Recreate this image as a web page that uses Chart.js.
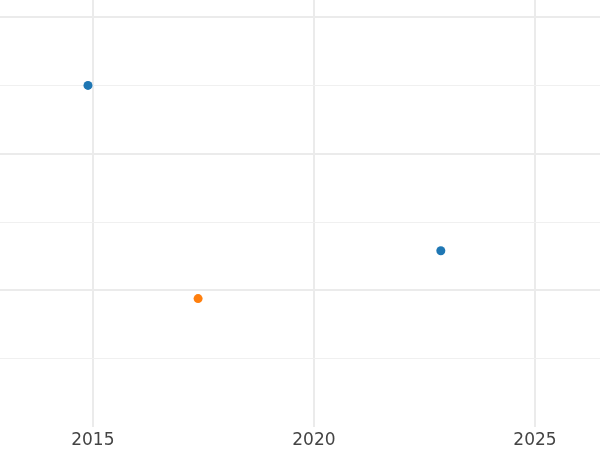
<!DOCTYPE html>
<html>
<head>
<meta charset="utf-8">
<script src="https://cdn.jsdelivr.net/npm/chart.js@4/dist/chart.umd.min.js"></script>
<style>
  html, body { margin: 0; padding: 0; background: #fff; }
  #wrap { width: 600px; height: 450px; position: relative; }
</style>
</head>
<body>
<div id="wrap"><canvas id="chart"></canvas></div>
<script>
// ── Data ────────────────────────────────────────────────────────────────────
const blueYears   = [2014.89, 2022.87];
const blueValues  = [2.5, 1.29];
const orangeYears = [2017.38];
const orangeValues = [0.94];

const xTicks = [2015, 2020, 2025];
const yMajorTicks = [1, 2, 3];
const yMinorTicks = [0.5, 1.5, 2.5];

const xRange = [2012.9, 2026.47];
const yRange = [0, 3.125];

function toPoints(xs, ys) {
  return xs.map((x, i) => ({ x: x, y: ys[i] }));
}

const yAllTicks = yMajorTicks.concat(yMinorTicks).sort((a, b) => a - b);

new Chart(document.getElementById('chart'), {
  type: 'scatter',
  data: {
    datasets: [
      {
        label: 'blue',
        data: toPoints(blueYears, blueValues),
        backgroundColor: '#1f77b4',
        borderWidth: 0,
        pointRadius: 4.5,
      },
      {
        label: 'orange',
        data: toPoints(orangeYears, orangeValues),
        backgroundColor: '#ff7f0e',
        borderWidth: 0,
        pointRadius: 4.5,
      },
    ],
  },
  options: {
    responsive: true,
    maintainAspectRatio: false,
    animation: false,
    layout: { padding: 0, autoPadding: false },
    plugins: { legend: { display: false }, tooltip: { enabled: false } },
    scales: {
      x: {
        type: 'linear',
        min: xRange[0],
        max: xRange[1],
        afterBuildTicks: (axis) => { axis.ticks = xTicks.map(v => ({ value: v })); },
        afterFit: (axis) => { axis.height = 23; },
        grid: { color: '#ebebeb', lineWidth: 2, drawTicks: false },
        border: { display: false },
        ticks: {
          padding: 3,
          color: '#444444',
          font: { family: 'DejaVu Sans', size: 17 },
          callback: (v) => String(v),
        },
      },
      y: {
        type: 'linear',
        min: yRange[0],
        max: yRange[1],
        afterBuildTicks: (axis) => { axis.ticks = yAllTicks.map(v => ({ value: v })); },
        grid: {
          drawTicks: false,
          color: (ctx) => yMajorTicks.includes(ctx.tick && ctx.tick.value) ? '#ebebeb' : '#f0f0f0',
          lineWidth: (ctx) => yMajorTicks.includes(ctx.tick && ctx.tick.value) ? 2 : 1,
        },
        border: { display: false },
        ticks: { display: false },
      },
    },
  },
});
</script>
</body>
</html>
